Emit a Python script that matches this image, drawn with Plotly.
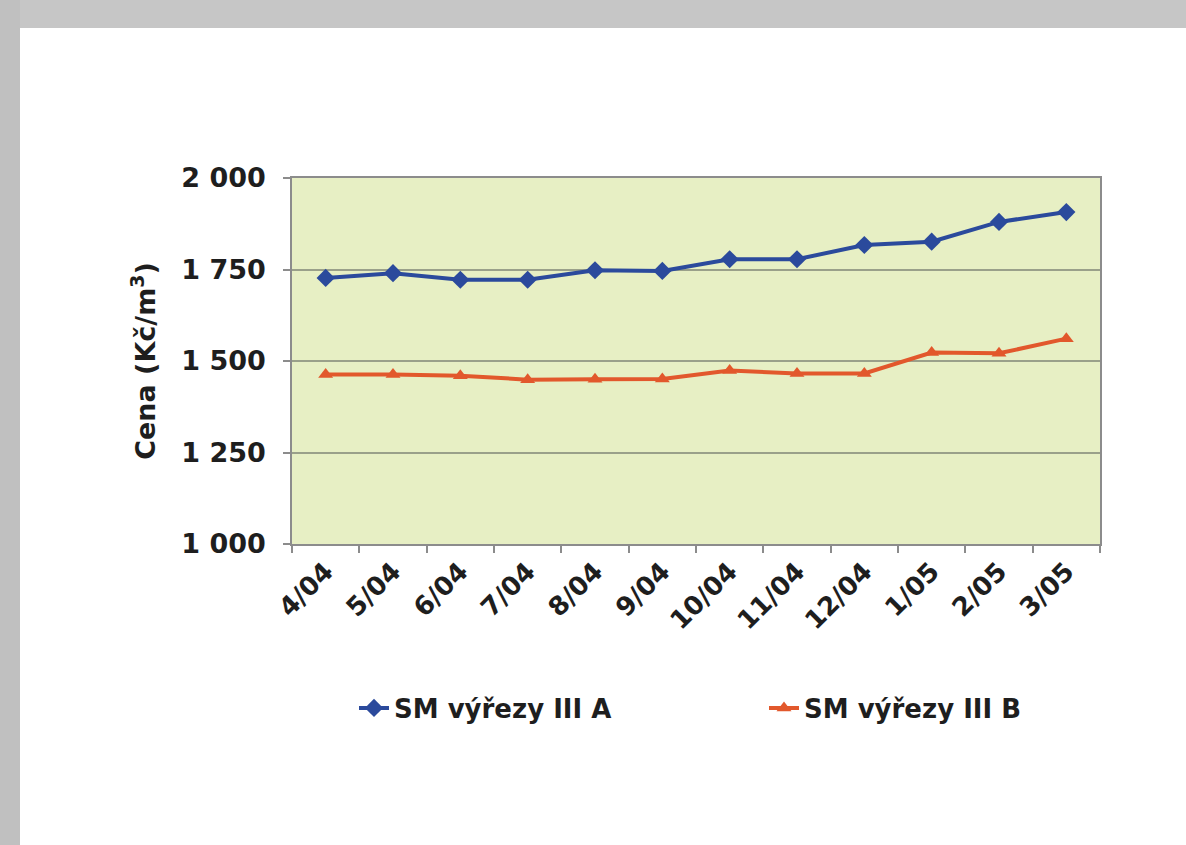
import plotly.graph_objects as go

categories = ["4/04", "5/04", "6/04", "7/04", "8/04", "9/04", "10/04", "11/04",
              "12/04", "1/05", "2/05", "3/05"]
series_a = [1727, 1740, 1722, 1722, 1748, 1746, 1778, 1778, 1817, 1826, 1880, 1907]
series_b = [1463, 1463, 1460, 1449, 1450, 1451, 1474, 1466, 1466, 1523, 1521, 1561]
name_a = "SM výřezy III A"
name_b = "SM výřezy III B"
y_tickvals = [1000, 1250, 1500, 1750, 2000]
y_ticktext = ["1 000", "1 250", "1 500", "1 750", "2 000"]

W, H = 1186, 845
L, R, T, B = 292, 1100, 178, 544
pw, ph = R - L, B - T

def px_x(p):
    return (p - L) / pw

def px_y(p):
    return (B - p) / ph

txt = dict(family="DejaVu Sans", size=26, color="#1e1e1e", weight="bold")

fig = go.Figure()
fig.add_trace(go.Scatter(
    x=categories, y=series_a, name=name_a, mode="lines+markers",
    line=dict(color="#2b4a9c", width=4),
    marker=dict(symbol="diamond", size=14, color="#2b4a9c"),
    legend="legend",
))
fig.add_trace(go.Scatter(
    x=categories, y=series_b, name=name_b, mode="lines+markers",
    line=dict(color="#e2582c", width=4),
    marker=dict(symbol="triangle-up", size=13, color="#e2582c"),
    legend="legend2",
))

leg_common = dict(orientation="h", xanchor="left", yanchor="middle", y=px_y(708),
                  font=txt, itemwidth=30, bgcolor="rgba(0,0,0,0)")

fig.update_layout(
    width=W, height=H,
    margin=dict(l=L, r=W - R, t=T, b=H - B, pad=0),
    paper_bgcolor="white",
    plot_bgcolor="#e7efc4",
    font=txt,
    showlegend=True,
    legend=dict(x=px_x(354), **leg_common),
    legend2=dict(x=px_x(764), **leg_common),
    xaxis=dict(
        type="category", tickangle=-45, tickson="boundaries",
        ticks="outside", ticklen=7, tickcolor="#8c8c8c", tickwidth=1.5,
        showline=True, linecolor="#8c8c8c", linewidth=1.5, mirror=True,
        showgrid=False,
        tickfont=txt,
        range=[-0.5, len(categories) - 0.5],
    ),
    yaxis=dict(
        range=[1000, 2000], tickvals=y_tickvals, ticktext=y_ticktext,
        ticks="outside", ticklen=7, tickcolor="#8c8c8c", tickwidth=1.5,
        ticklabelstandoff=12,
        showline=True, linecolor="#8c8c8c", linewidth=1.5, mirror=True,
        showgrid=True, gridcolor="#9aa08a", gridwidth=1.5,
        zeroline=False,
        tickfont=dict(family="DejaVu Sans", size=27, color="#1e1e1e", weight="bold"),
        title=dict(text="Cena (Kč/m<sup>3</sup>)", standoff=18,
                   font=dict(family="DejaVu Sans", size=27, color="#1e1e1e", weight="bold")),
    ),
    shapes=[
        dict(type="rect", xref="paper", yref="paper", layer="below",
             x0=px_x(0), x1=px_x(W), y0=px_y(0), y1=px_y(28),
             fillcolor="#c6c6c6", line=dict(width=0)),
        dict(type="rect", xref="paper", yref="paper", layer="below",
             x0=px_x(0), x1=px_x(20), y0=px_y(0), y1=px_y(H),
             fillcolor="#c0c0c0", line=dict(width=0)),
    ],
)

fig.write_html("out.html", config={"displayModeBar": False},
               post_script="document.body.style.margin='0';document.body.style.overflow='hidden';")
